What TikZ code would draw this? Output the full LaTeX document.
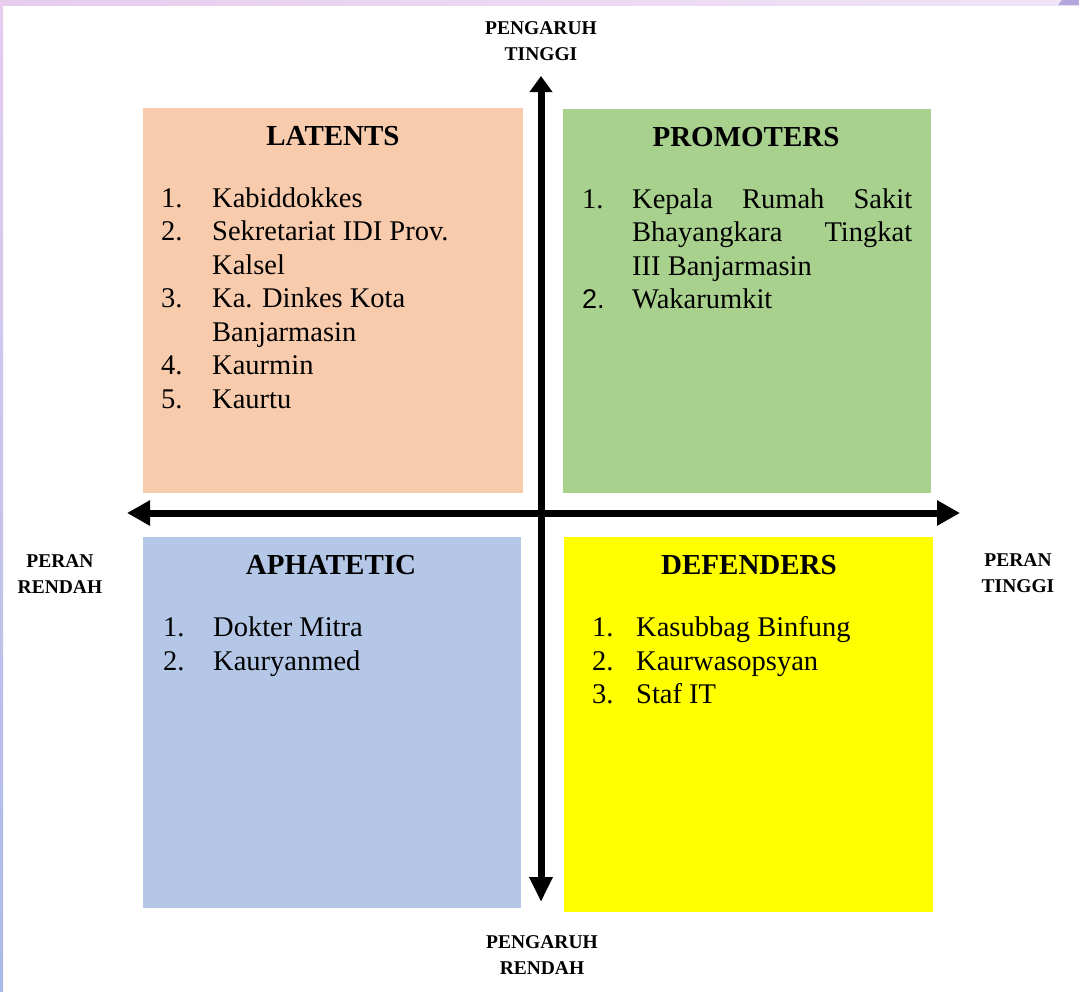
\documentclass[tikz,border=0pt]{standalone}
\usepackage{fontspec}
\setmainfont{Liberation Serif}
\newfontfamily\numsans{Liberation Sans}
\usetikzlibrary{arrows.meta}
\definecolor{latcol}{HTML}{F8CBAD}
\definecolor{procol}{HTML}{A9D18E}
\definecolor{aphcol}{HTML}{B4C7E7}
\definecolor{defcol}{HTML}{FFFF00}
\definecolor{frameA}{HTML}{E6CDEE}
\definecolor{frameB}{HTML}{F0E4F6}
\definecolor{frameC}{HTML}{A9BAE8}
\definecolor{frameD}{HTML}{B3A6DA}
\tikzset{
  quad/.style={rectangle, inner sep=0pt, draw=none},
  head/.style={anchor=base, inner sep=0pt, font=\bfseries\fontsize{29}{34}\selectfont},
  item/.style={anchor=base west, inner sep=0pt, font=\fontsize{28.5}{34}\selectfont},
  axlab/.style={align=center, inner sep=0pt, font=\bfseries\fontsize{19.5}{26}\selectfont},
  axis/.style={line width=7pt, black}
}
\begin{document}
\begin{tikzpicture}[x=1pt,y=-1pt]
\useasboundingbox (0,0) rectangle (1079,991);
\fill[white] (0,0) rectangle (1079,991);
% frame strips
\shade[left color=frameA, right color=frameB] (0,0) rectangle (1079,5);
\fill[frameD] (1062,0) -- (1079,0) -- (1079,5) -- (1058,5) -- cycle;
\shade[top color=frameA, bottom color=frameC] (0,0) rectangle (3,991);

% quadrants
\node[quad, fill=latcol, minimum width=380pt, minimum height=385pt] (lat) at (333,300.5) {};
\node[quad, fill=procol, minimum width=368pt, minimum height=384pt] (pro) at (747,301) {};
\node[quad, fill=aphcol, minimum width=378pt, minimum height=371pt] (aph) at (332,722.5) {};
\node[quad, fill=defcol, minimum width=369pt, minimum height=375pt] (def) at (748.5,724.5) {};

% axes
\coordinate (hL) at (127,513);
\coordinate (hR) at (960,513);
\coordinate (vT) at (541,76);
\coordinate (vB) at (541,902);
\draw[axis, {Triangle[length=23pt,width=24pt]}-{Triangle[length=23pt,width=24pt]}] (hL) -- (hR);
\draw[axis, {Triangle[length=16pt,width=22pt]}-{Triangle[length=25pt,width=22pt]}] (vT) -- (vB);

% axis labels
\node[axlab] (ptop) at (541,41.5) {PENGARUH\\TINGGI};
\node[axlab] (pbot) at (542,955.5) {PENGARUH\\RENDAH};
\node[axlab] (pleft) at (60,574.5) {PERAN\\RENDAH};
\node[axlab] (pright) at (1018,573.5) {PERAN\\TINGGI};

% LATENTS
\node[head] (latH) at (333,145) {LATENTS};
\node[item] (l1n) at (161,207) {1.};
\node[item] (l1) at (212,207) {Kabiddokkes};
\node[item] (l2n) at (161,240.5) {2.};
\node[item] (l2) at (212,240.5) {Sekretariat IDI Prov.};
\node[item] (l2b) at (212,274) {Kalsel};
\node[item] (l3n) at (161,307.5) {3.};
\node[item] (l3) at (212,307.5) {Ka. Dinkes Kota};
\node[item] (l3b) at (212,341) {Banjarmasin};
\node[item] (l4n) at (161,374.5) {4.};
\node[item] (l4) at (212,374.5) {Kaurmin};
\node[item] (l5n) at (161,408) {5.};
\node[item] (l5) at (212,408) {Kaurtu};

% PROMOTERS
\node[head] (proH) at (746,146) {PROMOTERS};
\node[item] (p1n) at (582,208) {1.};
\node[item] (p1) at (632,208) {\makebox[280pt]{Kepala\hfill Rumah\hfill Sakit}};
\node[item] (p1b) at (632,241.5) {\makebox[280pt]{Bhayangkara\hfill Tingkat}};
\node[item] (p1c) at (632,275) {III Banjarmasin};
\node[item, font=\numsans\fontsize{27}{34}\selectfont] (p2n) at (582,308.5) {2.};
\node[item] (p2) at (632,308.5) {Wakarumkit};

% APHATETIC
\node[head] (aphH) at (331,574) {APHATETIC};
\node[item] (a1n) at (163,636) {1.};
\node[item] (a1) at (213,636) {Dokter Mitra};
\node[item] (a2n) at (163,670) {2.};
\node[item] (a2) at (213,670) {Kauryanmed};

% DEFENDERS
\node[head] (defH) at (749,574) {DEFENDERS};
\node[item] (d1n) at (592,636) {1.};
\node[item] (d1) at (636,636) {Kasubbag Binfung};
\node[item] (d2n) at (592,670) {2.};
\node[item] (d2) at (636,670) {Kaurwasopsyan};
\node[item] (d3n) at (592,703) {3.};
\node[item] (d3) at (636,703) {Staf IT};
\end{tikzpicture}
\end{document}
